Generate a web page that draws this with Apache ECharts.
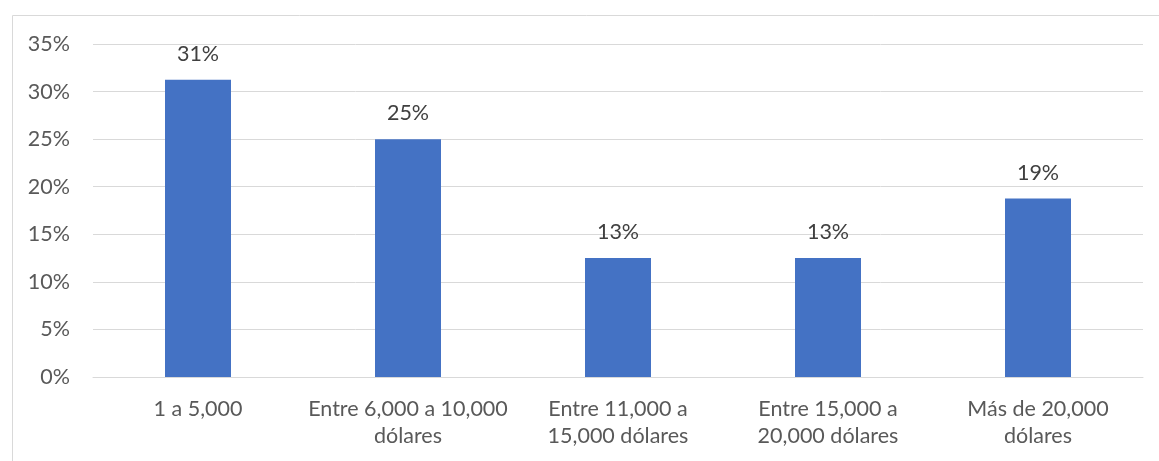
<!DOCTYPE html>
<html><head><meta charset="utf-8">
<script src="https://cdn.jsdelivr.net/npm/echarts@6/dist/echarts.min.js"></script>
<style>html,body{margin:0;padding:0;background:#fff}#c{width:1159px;height:461px}</style>
</head><body><div id="c"></div>
<script>
const categories = ['1 a 5,000', 'Entre 6,000 a 10,000\ndólares', 'Entre 11,000 a\n15,000 dólares', 'Entre 15,000 a\n20,000 dólares', 'Más de 20,000\ndólares'];
const values = [31.25, 25, 12.5, 12.5, 18.75];
const yTicks = [0, 5, 10, 15, 20, 25, 30, 35];
const FONT = 'Lato';
const chart = echarts.init(document.getElementById('c'));
chart.setOption({
  animation: false,
  graphic: [{type:'rect', shape:{x:12.5, y:15.5, width:1200, height:500}, style:{fill:'none', stroke:'#d9d9d9', lineWidth:1}}],
  grid: {left: 93, right: 16, top: 44, bottom: 84},
  xAxis: {
    type: 'category', data: categories,
    axisLine: {lineStyle: {color: '#d9d9d9'}}, axisTick: {show: false},
    axisLabel: {color: '#595959', fontFamily: FONT, fontSize: 21.5, lineHeight: 27, margin: 19, interval: 0}
  },
  yAxis: {
    type: 'value', min: yTicks[0], max: yTicks[yTicks.length-1], interval: 5,
    axisLine: {show: false}, axisTick: {show: false},
    splitLine: {lineStyle: {color: '#d9d9d9'}},
    axisLabel: {color: '#595959', fontFamily: FONT, fontSize: 21.5, margin: 23, formatter: v => v + '%'}
  },
  series: [{
    type: 'bar', data: values, barWidth: 66,
    itemStyle: {color: '#4472c4'},
    label: {show: true, position: 'top', distance: 15, color: '#404040', fontFamily: FONT, fontSize: 21.5,
      formatter: p => Math.round(p.value) + '%'}
  }]
});
</script></body></html>
